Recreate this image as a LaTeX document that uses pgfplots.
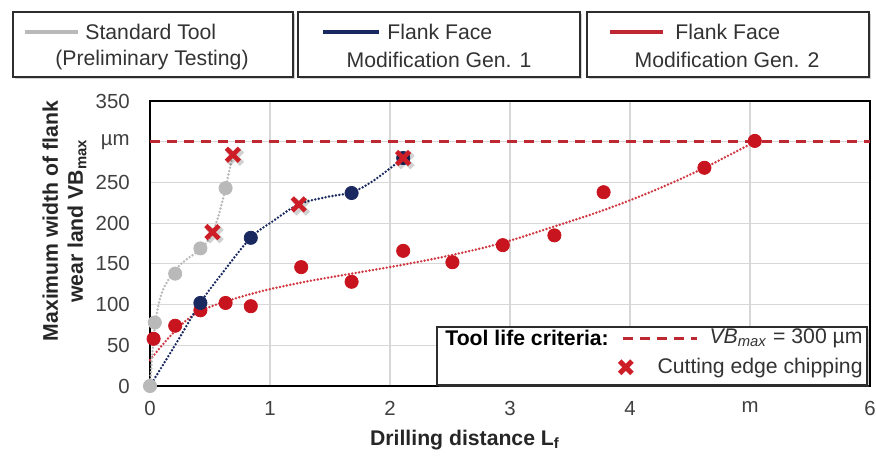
\documentclass[border=0pt]{standalone}
\usepackage{fontspec}
\setmainfont{Liberation Sans}
\newfontfamily\dejavu{DejaVu Sans}
\usepackage{pgfplots}
\pgfplotsset{compat=1.18}
\usetikzlibrary{shadows}
\definecolor{graypt}{RGB}{185,185,185}
\definecolor{navy}{RGB}{25,40,95}
\definecolor{redpt}{RGB}{200,20,30}
\definecolor{reddash}{RGB}{190,40,50}
\definecolor{xred}{RGB}{205,30,40}
\definecolor{gridc}{RGB}{215,215,215}
\definecolor{boxc}{RGB}{45,45,45}
\begin{document}
\begin{tikzpicture}
\useasboundingbox (-75pt,-35pt) rectangle (363pt,193pt);
\begin{axis}[
  scale only axis, width=360pt, height=142.5pt,
  xmin=0, xmax=6, ymin=0, ymax=350,
  xtick={0,1,2,3,4,5,6}, xticklabels={0,1,2,3,4,m,6},
  ytick={0,50,100,150,200,250,300,350},
  yticklabels={0,50,100,150,200,250,µm,350},
  tick style={draw=none},
  grid=major, major grid style={gridc, line width=0.6pt},
  axis line style={black, line width=1.1pt},
  tick label style={font=\fontsize{10.2}{12}\selectfont, text=black!75},
  yticklabel style={xshift=-6.6pt},
  xticklabel style={yshift=-4pt},
  clip=false,
  trend/.style={line width=1.35pt, dash pattern=on 0pt off 1.75pt, line cap=round, smooth, tension=0.6},
  pts/.style={only marks, mark=*, mark size=3.3pt},
  xs/.style={only marks, mark=x, mark size=4.6pt, mark options={xred, line width=2.3pt}},
  xshadow/.style={only marks, mark=x, mark size=4.8pt, mark options={black, opacity=0.18, line width=3pt, xshift=1.2pt, yshift=-1.2pt}},
]
% VBmax criterion
\addplot[reddash, line width=1.5pt, dash pattern=on 5pt off 3.5pt] coordinates {(0,300) (6,300)};
% trend lines
\addplot[trend, redpt!85] coordinates {(0,32) (0.2,66) (0.42,92) (0.84,113) (1.26,127) (1.68,138) (2.11,149) (2.52,161) (2.94,176) (3.37,196) (3.78,216) (4.2,240) (4.62,268) (5.04,300)};
\addplot[trend, graypt] coordinates {(0,0) (0.04,72) (0.1,115) (0.21,142) (0.3,155) (0.42,168) (0.52,188) (0.6,225) (0.69,284)};
\addplot[trend, navy] coordinates {(0,0) (0.2,48) (0.42,102) (0.61,140) (0.84,182) (1.03,203) (1.24,223) (1.47,232) (1.68,238) (1.86,252) (2.11,280)};
% data points
\addplot[pts, mark options={fill=redpt, draw=redpt}] coordinates {(0.03,58) (0.21,74) (0.42,93) (0.63,102) (0.84,98) (1.26,146) (1.68,128) (2.11,166) (2.52,152) (2.94,173) (3.37,185) (3.78,238) (4.62,268) (5.04,301)};
\addplot[pts, mark options={fill=navy, draw=navy}] coordinates {(0.42,102) (0.84,182) (1.68,237) (2.11,280)};
\addplot[pts, mark options={fill=graypt, draw=graypt}] coordinates {(0,0) (0.04,78) (0.21,138) (0.42,169) (0.63,243)};
% chipping
\addplot[xshadow] coordinates {(0.52,189) (0.69,284) (1.24,223) (2.11,280)};
\addplot[xs] coordinates {(0.52,189) (0.69,284) (1.24,223) (2.11,280)};
\end{axis}
% top legend boxes
\tikzset{lbox/.style={draw=boxc, line width=1pt, fill=white, drop shadow={shadow xshift=1.2pt, shadow yshift=-1.2pt, opacity=0.35}}}
\path[lbox] (-68.6pt,154.5pt) rectangle (71.5pt,187pt);
\path[lbox] (74pt,154.5pt) rectangle (215pt,187pt);
\path[lbox] (218.5pt,154.5pt) rectangle (359.5pt,187pt);
\tikzset{ltxt/.style={font=\fontsize{10.6}{12}\selectfont, text=black!80, inner sep=0pt}}
\draw[graypt, line width=1.6pt] (-62.5pt,177pt) -- (-36pt,177pt);
\node[ltxt, anchor=west] at (-32.5pt,177pt) {Standard Tool};
\node[ltxt] at (1pt,163pt) {(Preliminary Testing)};
\draw[navy, line width=1.6pt] (86.5pt,177pt) -- (114.5pt,177pt);
\node[ltxt, anchor=west] at (118.5pt,177pt) {Flank Face};
\node[ltxt] at (144.5pt,163pt) {Modification Gen. 1};
\draw[reddash, line width=1.6pt] (230pt,177pt) -- (256.5pt,177pt);
\node[ltxt, anchor=west] at (262.5pt,177pt) {Flank Face};
\node[ltxt] at (288.5pt,163pt) {Modification Gen. 2};
% inner legend
\path[lbox] (143.5pt,0.5pt) rectangle (358.5pt,29.5pt);
\node[ltxt, anchor=west, font=\fontsize{10.6}{12}\selectfont\bfseries, text=black] at (147.5pt,24pt) {Tool life criteria:};
\draw[reddash, line width=1.5pt, dash pattern=on 5pt off 3.5pt] (236.5pt,24pt) -- (273.5pt,24pt);
\node[ltxt, anchor=east] at (356.5pt,24pt) {\textit{VB}\textsubscript{\textit{max}} = 300 µm};
\node[ltxt, text=xred, font=\fontsize{12}{12}\selectfont] at (238pt,9pt) {\dejavu ✖};
\node[ltxt, anchor=east] at (356.5pt,9pt) {Cutting edge chipping};
% axis labels
\node[rotate=90, align=center, font=\fontsize{10.6}{12.5}\selectfont\bfseries, text=black!85] at (-42.75pt,82.5pt) {Maximum width of flank\\wear land VB\textsubscript{max}};
\node[font=\fontsize{10.6}{12}\selectfont\bfseries, text=black!85] at (157.5pt,-27pt) {Drilling distance L\textsubscript{f}};
\end{tikzpicture}
\end{document}
